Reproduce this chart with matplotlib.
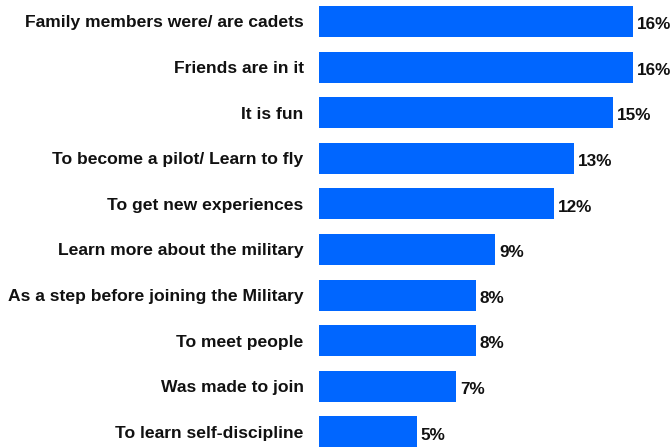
import numpy as np
from matplotlib import pyplot as plt

plt.rcParams['font.family'] = ['Liberation Sans', 'DejaVu Sans']

# Datos del gráfico
categorias = ['Family members were/ are cadets', 'Friends are in it', 'It is fun',
              'To become a pilot/ Learn to fly', 'To get new experiences',
              'Learn more about the military', 'As a step before joining the Military',
              'To meet people', 'Was made to join', 'To learn self-discipline']
valores = [16, 16, 15, 13, 12, 9, 8, 8, 7, 5]
etiquetas = ['16%', '16%', '15%', '13%', '12%', '9%', '8%', '8%', '7%', '5%']

fig = plt.figure(figsize=(6.71, 4.47), dpi=100)
ax = fig.add_axes([0.4754, 0.0, 0.5246, 1.0])

y = np.arange(len(categorias))
ax.barh(y, valores, height=0.68, color='#0066FF')

for i in range(len(valores)):
    ax.text(valores[i] + 0.2, y[i] + 0.07, etiquetas[i], va='center', ha='left',
            fontsize=12.3, fontweight='bold', color='#111111')

ax.set_yticks(y)
ax.set_yticklabels(categorias, fontsize=12.6, fontweight='bold', color='#111111')
ax.tick_params(axis='y', length=0, pad=11)
ax.set_xticks([])
ax.set_xlim(0, 17.96)
ax.set_ylim(9.33, -0.47)
for lado in ['top', 'right', 'bottom', 'left']:
    ax.spines[lado].set_visible(False)

fig.savefig('out.png', dpi=100)
